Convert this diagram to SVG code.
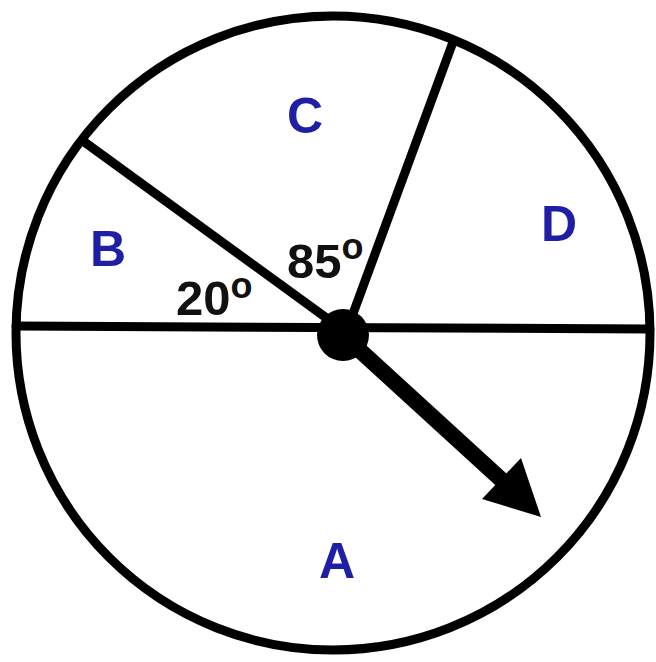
<svg xmlns="http://www.w3.org/2000/svg" width="656" height="662" viewBox="0 0 656 662">
<style>
.ln{stroke:#000;stroke-width:9;fill:none;stroke-linecap:round}
.lbl{font-family:"Liberation Sans",Arial,sans-serif;font-weight:bold;font-size:50px;fill:#1f1fa6;text-anchor:middle}
.ang{font-family:"Liberation Sans",Arial,sans-serif;font-weight:bold;font-size:49px;fill:#111}
.deg{font-size:36px}
</style>
<rect width="656" height="662" fill="#fff"/>
<g id="spinner">
<circle class="ln" cx="333" cy="333" r="317"/>
</g>
<g id="connectors">
<line class="ln" x1="16" y1="326" x2="650" y2="329"/>
<line class="ln" x1="83" y1="141" x2="343" y2="330"/>
<line class="ln" x1="453" y1="42" x2="347" y2="330"/>
</g>
<g id="pointer">
<circle cx="343" cy="335" r="26" fill="#000"/>
<line x1="343" y1="335" x2="505" y2="483" stroke="#000" stroke-width="16"/>
<polygon points="541,517 521,458 482,499" fill="#000"/>
</g>
<g id="labels">
<text class="lbl" x="305" y="133">C</text>
<text class="lbl" x="108" y="266">B</text>
<text class="lbl" x="559" y="241">D</text>
<text class="lbl" x="337" y="578">A</text>
</g>
<g id="angles">
<text class="ang" x="176" y="315">20<tspan class="deg" dy="-17">o</tspan></text>
<text class="ang" x="287" y="278">85<tspan class="deg" dy="-19">o</tspan></text>
</g>
</svg>
